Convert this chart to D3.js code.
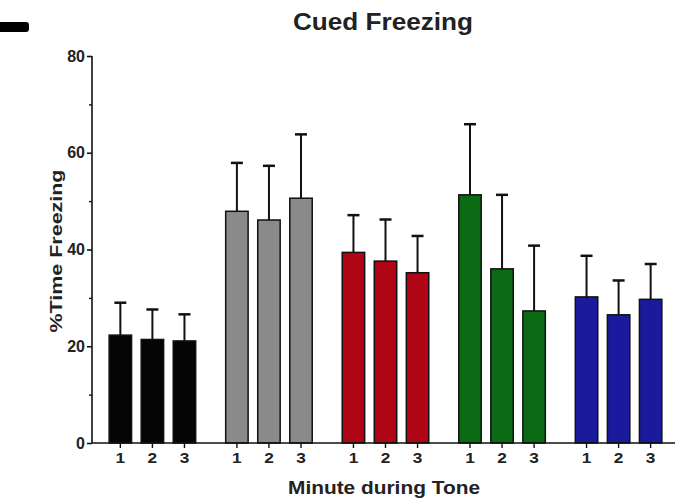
<!DOCTYPE html>
<html>
<head>
<meta charset="utf-8">
<script src="https://cdn.jsdelivr.net/npm/d3@7"></script>
<style>
  body { margin: 0; background: #fff; }
  text { font-family: "Liberation Sans", Arial, sans-serif; font-weight: bold; }
</style>
</head>
<body>
<div id="vis"></div>
<script>
// Frame
const FRAME_WIDTH = 685;
const FRAME_HEIGHT = 502;
const MARGINS = { left: 92, right: 10, top: 56, bottom: 59 };

// Data: 5 groups x 3 minutes, mean and SEM (%)
const GROUPS = ["g1", "g2", "g3", "g4", "g5"];
const MINUTES = ["1", "2", "3"];
const COLORS = ["#050505", "#8a8a8a", "#b00515", "#0b6b14", "#1a1a9c"];
const MEANS = [
    [22.3, 21.4, 21.1],
    [47.9, 46.1, 50.6],
    [39.4, 37.6, 35.2],
    [51.3, 36.0, 27.3],
    [30.2, 26.5, 29.7]
];
const SEMS = [
    [6.7, 6.2, 5.5],
    [10.0, 11.2, 13.2],
    [7.7, 8.6, 7.6],
    [14.6, 15.3, 13.5],
    [8.5, 7.1, 7.3]
];
const Y_TICKS = [0, 20, 40, 60, 80];
const Y_MINOR = [10, 30, 50, 70];

const svg = d3.select("#vis")
    .append("svg")
    .attr("width", FRAME_WIDTH)
    .attr("height", FRAME_HEIGHT);

// panel mark top left
svg.append("rect")
    .attr("x", -6).attr("y", 22)
    .attr("width", 35).attr("height", 10)
    .attr("rx", 3)
    .attr("fill", "#000");

const X_GROUP = d3.scaleBand()
    .domain(GROUPS)
    .range([MARGINS.left + 10, FRAME_WIDTH - MARGINS.right - 6])
    .paddingInner(0.175)
    .paddingOuter(0.02);

const X_BAR = d3.scaleBand()
    .domain(MINUTES)
    .range([0, X_GROUP.bandwidth()])
    .paddingInner(0.3)
    .paddingOuter(0.15);

const Y_SCALE = d3.scaleLinear()
    .domain([0, 80])
    .range([FRAME_HEIGHT - MARGINS.bottom, MARGINS.top]);

// build rows
const rows = [];
GROUPS.forEach((g, gi) => {
    MINUTES.forEach((m, mi) => {
        rows.push({ g: g, m: m, gi: gi, mean: MEANS[gi][mi], sem: SEMS[gi][mi] });
    });
});

// error bars (upper only)
const errs = svg.append("g").selectAll("g.err")
    .data(rows)
    .enter()
    .append("g");

errs.append("line")
    .attr("x1", d => X_GROUP(d.g) + X_BAR(d.m) + X_BAR.bandwidth() / 2)
    .attr("x2", d => X_GROUP(d.g) + X_BAR(d.m) + X_BAR.bandwidth() / 2)
    .attr("y1", d => Y_SCALE(d.mean))
    .attr("y2", d => Y_SCALE(d.mean + d.sem))
    .attr("stroke", "#111")
    .attr("stroke-width", 2);

errs.append("line")
    .attr("x1", d => X_GROUP(d.g) + X_BAR(d.m) + X_BAR.bandwidth() / 2 - 6)
    .attr("x2", d => X_GROUP(d.g) + X_BAR(d.m) + X_BAR.bandwidth() / 2 + 6)
    .attr("y1", d => Y_SCALE(d.mean + d.sem))
    .attr("y2", d => Y_SCALE(d.mean + d.sem))
    .attr("stroke", "#111")
    .attr("stroke-width", 2.5);

// bars
svg.append("g").selectAll("rect")
    .data(rows)
    .enter()
    .append("rect")
    .attr("x", d => X_GROUP(d.g) + X_BAR(d.m))
    .attr("y", d => Y_SCALE(d.mean))
    .attr("width", X_BAR.bandwidth())
    .attr("height", d => Y_SCALE(0) - Y_SCALE(d.mean))
    .attr("fill", d => COLORS[d.gi])
    .attr("stroke", "#111")
    .attr("stroke-width", 1.5);

// Y axis
const yAxis = svg.append("g")
    .attr("transform", "translate(" + MARGINS.left + ",0)")
    .call(d3.axisLeft(Y_SCALE).tickValues(Y_TICKS).tickSize(5).tickSizeOuter(0).tickPadding(2));
yAxis.selectAll("text").attr("font-size", "16px").attr("fill", "#222");
yAxis.selectAll("line, path").attr("stroke", "#111").attr("stroke-width", 1.6);
yAxis.select(".domain").attr("d", "M0," + Y_SCALE(80) + "V" + Y_SCALE(0));

svg.append("g")
    .attr("transform", "translate(" + MARGINS.left + ",0)")
    .call(d3.axisLeft(Y_SCALE).tickValues(Y_MINOR).tickSize(3).tickFormat(""))
    .call(g => g.select(".domain").remove())
    .selectAll("line").attr("stroke", "#111").attr("stroke-width", 1.4);

// X axis line
svg.append("line")
    .attr("x1", MARGINS.left)
    .attr("x2", FRAME_WIDTH - MARGINS.right)
    .attr("y1", Y_SCALE(0))
    .attr("y2", Y_SCALE(0))
    .attr("stroke", "#111")
    .attr("stroke-width", 1.6);

// X ticks per group
GROUPS.forEach((g) => {
    const ax = svg.append("g")
        .attr("transform", "translate(" + X_GROUP(g) + "," + Y_SCALE(0) + ")")
        .call(d3.axisBottom(X_BAR).tickSize(5).tickSizeOuter(0));
    ax.select(".domain").remove();
    ax.selectAll("line").attr("stroke", "#111").attr("stroke-width", 1.4);
    ax.selectAll("text").attr("font-size", "15px").attr("fill", "#222").attr("dy", "0.8em")
        .attr("transform", "scale(1.15,1)");
});

// Title
svg.append("text")
    .attr("x", 383).attr("y", 30)
    .attr("text-anchor", "middle")
    .attr("font-size", "23px")
    .attr("textLength", 180)
    .attr("lengthAdjust", "spacingAndGlyphs")
    .attr("fill", "#222")
    .text("Cued Freezing");

// Axis labels
svg.append("text")
    .attr("x", 384).attr("y", 494)
    .attr("text-anchor", "middle")
    .attr("font-size", "19px")
    .attr("textLength", 192)
    .attr("lengthAdjust", "spacingAndGlyphs")
    .attr("fill", "#222")
    .text("Minute during Tone");

svg.append("text")
    .attr("transform", "translate(62," + 251 + ") rotate(-90)")
    .attr("text-anchor", "middle")
    .attr("font-size", "17px")
    .attr("textLength", 163)
    .attr("lengthAdjust", "spacingAndGlyphs")
    .attr("fill", "#222")
    .text("%Time Freezing");
</script>
</body>
</html>
